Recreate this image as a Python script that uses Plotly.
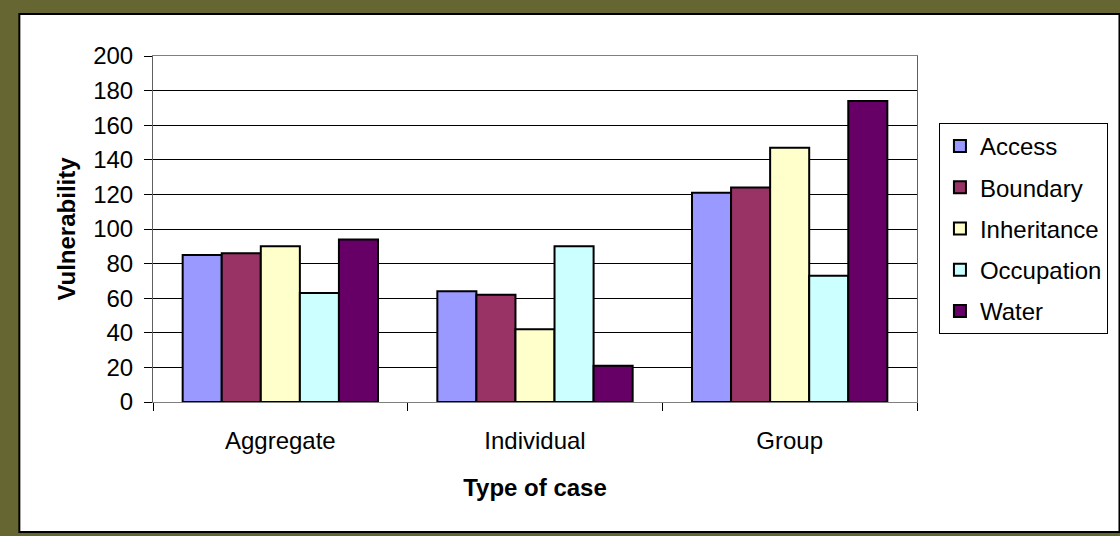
import plotly.graph_objects as go

categories = ["Aggregate", "Individual", "Group"]
series_names = ["Access", "Boundary", "Inheritance", "Occupation", "Water"]
access = [85, 64, 121]
boundary = [86, 62, 124]
inheritance = [90, 42, 147]
occupation = [63, 90, 73]
water = [94, 21, 174]
series_values = [access, boundary, inheritance, occupation, water]
colors = ["#9999FF", "#993366", "#FFFFCC", "#CCFFFF", "#660066"]
y_ticks = list(range(0, 201, 20))

FONT = "Liberation Sans, Arial, sans-serif"

fig = go.Figure()
for i, (name, vals, col) in enumerate(zip(series_names, series_values, colors)):
    fig.add_trace(go.Bar(
        x=categories, y=vals, name=name, legendgroup=name,
        marker=dict(color=col, line=dict(color="black", width=2)),
    ))

# plot area pixel geometry
L, R, T, B = 153, 919, 56, 402
W, H = 1120, 536
pw, ph = R - L, B - T

def px_x(p):
    return (p - L) / pw

def px_y(p):
    return (B - p) / ph

fig.add_shape(type="rect", xref="paper", yref="paper",
              x0=px_x(19), x1=px_x(1122), y0=px_y(532), y1=px_y(14),
              fillcolor="white", line=dict(color="black", width=2), layer="below")

fig.update_layout(
    width=W, height=H,
    margin=dict(l=L, r=W - R, t=T, b=H - B, pad=0),
    paper_bgcolor="#666633",
    plot_bgcolor="#C0C0C0",
    barmode="group", bargap=0.233, bargroupgap=0,
    font=dict(family=FONT, size=24, color="black"),
    showlegend=True,
    legend=dict(
        x=px_x(941), xanchor="left", y=px_y(123), yanchor="top",
        bgcolor="white", bordercolor="black", borderwidth=1,
        font=dict(family=FONT, size=24, color="black"),
        traceorder="grouped", tracegroupgap=7, itemwidth=30,
    ),
    xaxis=dict(
        type="category", tickson="boundaries", ticks="outside", ticklen=8,
        tickcolor="black", showline=True, linecolor="#808080", linewidth=1, mirror=True,
        showgrid=False, tickfont=dict(size=24), ticklabelstandoff=17,
        title=dict(text="<b>Type of case</b>", font=dict(size=24), standoff=26),
    ),
    yaxis=dict(
        range=[0, 200], tickvals=y_ticks, ticks="outside", ticklen=8, tickcolor="black",
        showline=True, linecolor="#606060", linewidth=1, mirror=True,
        showgrid=True, gridcolor="black", gridwidth=1, zeroline=False,
        tickfont=dict(size=24), ticklabelstandoff=6,
        title=dict(text="<b>Vulnerability</b>", font=dict(size=24), standoff=10),
    ),
)

fig.write_html("out.html")
